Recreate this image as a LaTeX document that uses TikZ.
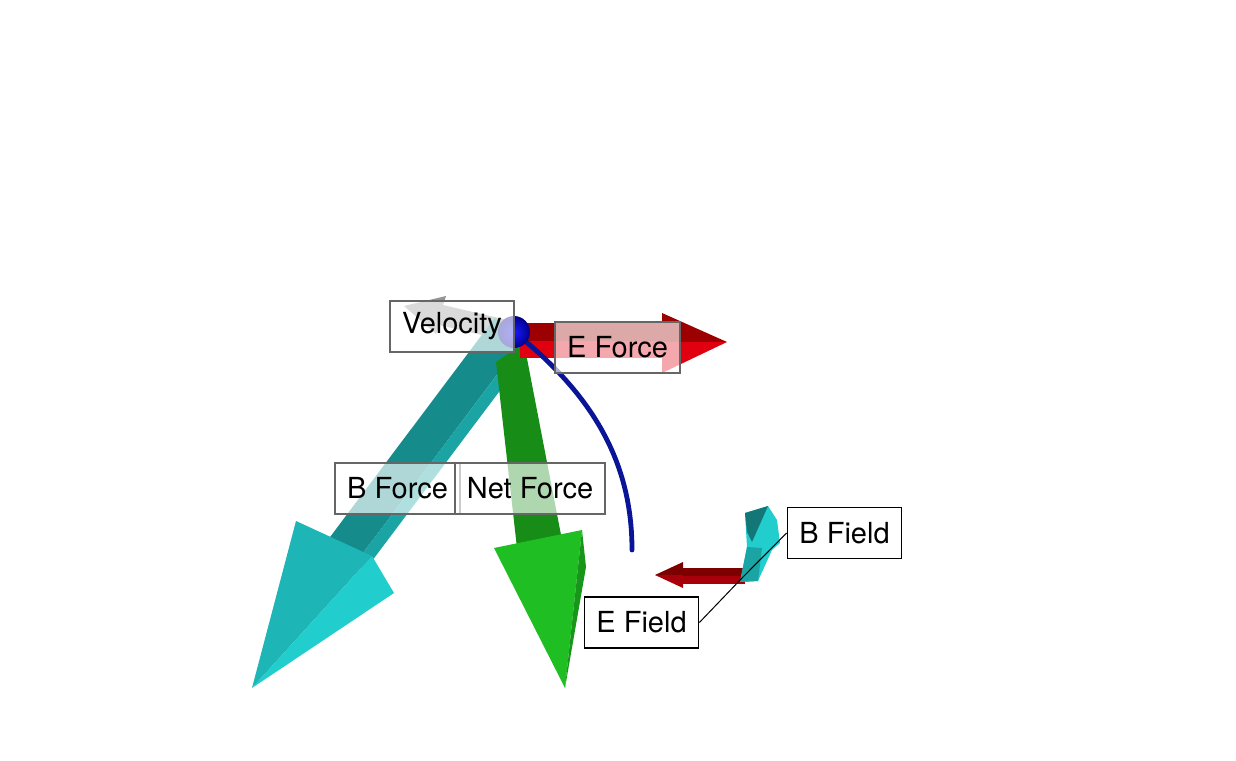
\documentclass[tikz,border=0pt]{standalone}
\usepackage{fontspec}
\setmainfont{TeX Gyre Heros}
\definecolor{velgray}{HTML}{949494}
\definecolor{bdark}{HTML}{168B8B}
\definecolor{blight}{HTML}{1AA4A4}
\definecolor{bhead}{HTML}{1DB5B5}
\definecolor{bheadlt}{HTML}{22CDCD}
\definecolor{bfacet}{HTML}{137777}
\definecolor{netshaft}{HTML}{178C17}
\definecolor{nethead}{HTML}{1FBF24}
\definecolor{netside}{HTML}{18961A}
\definecolor{edark}{HTML}{9C0000}
\definecolor{ebright}{HTML}{E0000F}
\definecolor{efdark}{HTML}{7D0000}
\definecolor{efbright}{HTML}{A8000A}
\definecolor{pathblue}{HTML}{0A1496}
\begin{document}
\begin{tikzpicture}[x=0.5pt,y=-0.5pt,
    tag/.style={draw=black!60,line width=1pt,fill=white,fill opacity=0.66,text opacity=1,
      inner xsep=6pt,inner ysep=0pt,minimum height=25.5pt,font=\fontsize{14.5}{17}\selectfont},
    fieldtag/.style={tag,draw=black,line width=0.75pt,fill opacity=1}]
  \useasboundingbox (0,0) rectangle (1236,760);
  \coordinate (q) at (514,332);
  \coordinate (o) at (742,578);
  \fill[velgray] (516,322) -- (443,305) -- (446,296) -- (404,306) -- (436,334) -- (439,325) -- (512,342) -- cycle;
  \fill[bdark] (494.7,317.8) -- (523.7,339.1) -- (354.7,564.1) -- (325.7,542.8) -- cycle;
  \fill[blight] (523.7,339.1) -- (533.3,346.2) -- (364.3,571.2) -- (354.7,564.1) -- cycle;
  \fill[bhead] (296,521) -- (372,556) -- (252,688) -- cycle;
  \fill[bheadlt] (372,556) -- (394,593) -- (252,688) -- cycle;
  \fill[netshaft] (496,362) -- (524,343) -- (562,540) -- (517,548) -- cycle;
  \fill[nethead] (494,548) -- (582,530) -- (565,688) -- cycle;
  \fill[netside] (582,530) -- (586,567) -- (565,688) -- cycle;
  \fill[edark] (520,323) rectangle (662,341);
  \fill[ebright] (520,341) rectangle (662,358);
  \fill[edark] (662,313) -- (727,342) -- (662,342) -- cycle;
  \fill[ebright] (662,342) -- (727,342) -- (662,373) -- cycle;
  \draw[pathblue,line width=2.4pt,line cap=round] (q) .. controls (600,400) and (632,470) .. (632,550);
  \shade[inner color=blue!90!white,outer color=blue!55!black] (q) circle (8pt);
  \fill[efdark] (683,568) rectangle (745,576);
  \fill[efbright] (683,576) rectangle (745,584);
  \fill[efdark] (683,562) -- (655,575) -- (683,575) -- cycle;
  \fill[efbright] (683,575) -- (655,575) -- (683,588) -- cycle;
  \fill[bheadlt] (745,513) -- (768,506) -- (777,520) -- (780,543) -- (772,550) -- (758,581) -- (740,582) -- (747,547) -- cycle;
  \fill[bfacet] (745,513) -- (768,506) -- (752,542) -- (747,532) -- cycle;
  \fill[blight] (747,547) -- (762,548) -- (758,581) -- (740,582) -- cycle;
  \node[tag] (vel) at (452,326.5) {Velocity};
  \node[tag] (eforce) at (617.5,347) {E Force};
  \node[tag] (bforce) at (397.5,488.5) {B Force};
  \node[tag] (netforce) at (530,488.5) {Net Force};
  \node[fieldtag] (efield) at (641.5,622.5) {E Field};
  \node[fieldtag] (bfield) at (844.5,533) {B Field};
  \draw[line width=0.5pt] (efield.east) -- (o);
  \draw[line width=0.5pt] (bfield.west) -- (o);
\end{tikzpicture}
\end{document}
